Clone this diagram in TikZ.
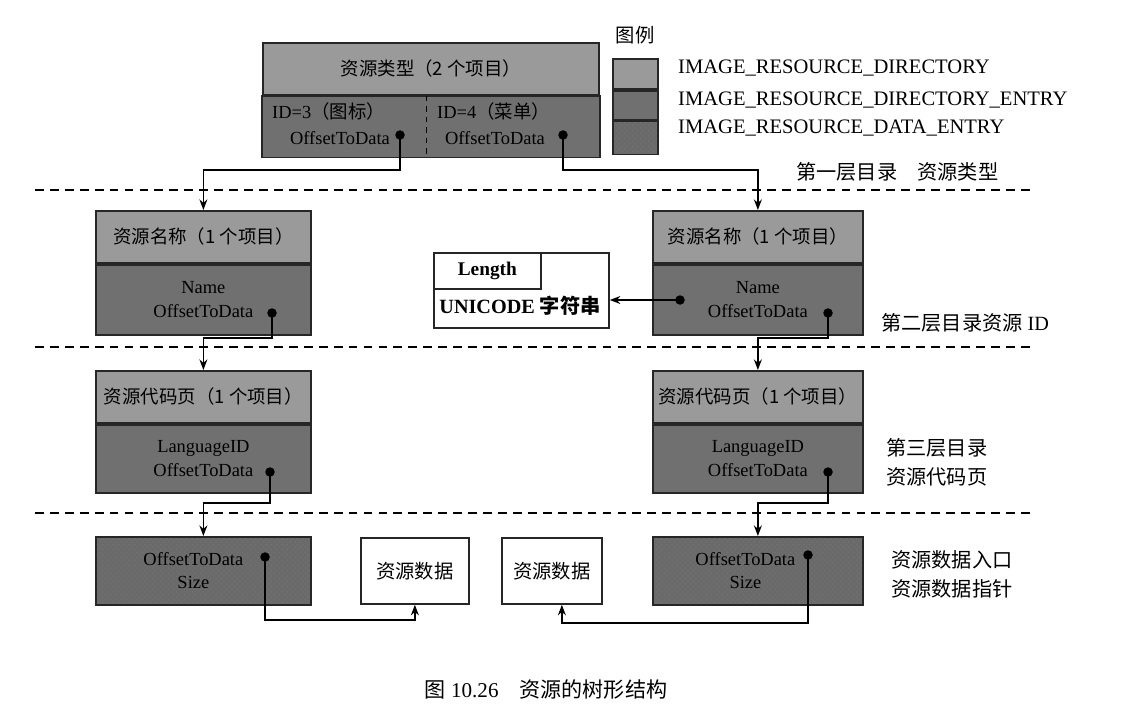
\documentclass[tikz,border=0pt]{standalone}
\usepackage{fontspec}
\setmainfont{Liberation Serif}
\newfontfamily\cjk{Noto Sans CJK SC}
\usepackage{tikz}
\usetikzlibrary{positioning,arrows.meta,calc,patterns}
\definecolor{dirgray}{HTML}{9A9A9A}
\definecolor{entgray}{HTML}{707070}
\definecolor{datgray}{HTML}{6A6A6A}
\newcommand{\zh}[1]{{\cjk #1}}

\begin{document}
\begin{tikzpicture}[
    box/.style={draw=black!85, line width=1pt, inner sep=0pt, anchor=north west},
    dirhdr/.style={box, fill=dirgray, minimum height=1.04cm, font=\fontsize{10.5}{12}\selectfont},
    entbody/.style={box, fill=entgray, align=center, font=\fontsize{10.5}{13.7}\selectfont},
    stipple/.style={preaction={fill=datgray}, pattern=crosshatch dots, pattern color=black!55},
    datentry/.style={box, stipple, minimum height=1.36cm},
    dattext/.style={align=center, text=black, font=\fontsize{10.5}{13}\selectfont},
    datbox/.style={box, fill=white, minimum height=1.32cm, font=\fontsize{11}{13}\selectfont},
    dot/.style={circle, fill=black, inner sep=0pt, minimum size=0.19cm},
    arr/.style={line width=1pt, -{Stealth[length=6pt,width=4.5pt]}},
    level/.style={line width=1.2pt, dash pattern=on 5pt off 3.5pt},
    side/.style={anchor=west, align=left, font=\fontsize{11.5}{16.5}\selectfont},
    lgtext/.style={anchor=west, font=\fontsize{11.7}{14}\selectfont},
    txt/.style={font=\fontsize{10.5}{12}\selectfont}
  ]
    \useasboundingbox (0,0) rectangle (22.92,14.42);

    \node[dirhdr, minimum width=6.72cm] (typ) at (5.24,13.58) {\zh{资源类型（2 个项目）}};
    \node[box, draw=none, fill=entgray, minimum width=3.26cm, minimum height=1.2cm] (typL) at (typ.south west) {};
    \node[box, draw=none, fill=entgray, minimum width=3.46cm, minimum height=1.2cm, anchor=north east] (typR) at (typ.south east) {};
    \draw[line width=1pt, black!85] (typL.north west) rectangle (typR.south east);
    \draw[line width=0.8pt, dashed] (typL.north east) -- (typL.south east);
    \node[txt, anchor=west] (id3) at (5.32,12.2) {ID=3\zh{（图标）}};
    \node[txt] (off3) at (6.8,11.66) {OffsetToData};
    \node[dot] (d3) at (8.0,11.72) {};
    \node[txt, anchor=west] (id4) at (8.62,12.2) {ID=4\zh{（菜单）}};
    \node[txt] (off4) at (9.9,11.66) {OffsetToData};
    \node[dot] (d4) at (11.26,11.72) {};

    \node[font=\fontsize{11}{13}\selectfont] (lgd) at (12.7,13.72) {\zh{图例}};
    \node[box, fill=dirgray, minimum width=0.9cm, minimum height=0.6cm] (lg1) at (12.24,13.26) {};
    \node[box, fill=entgray, minimum width=0.9cm, minimum height=0.58cm] (lg2) at (lg1.south west) {};
    \node[box, stipple, minimum width=0.9cm, minimum height=0.66cm] (lg3) at (lg2.south west) {};
    \node[lgtext] (lgt1) at (13.44,13.06) {IMAGE\_RESOURCE\_DIRECTORY};
    \node[lgtext] (lgt2) at (13.44,12.42) {IMAGE\_RESOURCE\_DIRECTORY\_ENTRY};
    \node[lgtext] (lgt3) at (13.44,11.86) {IMAGE\_RESOURCE\_DATA\_ENTRY};

    \node[side] (lv1) at (15.8,10.98) {\zh{第一层目录　资源类型}};
    \draw[level] (0.7,10.62) -- (20.6,10.62);

    \node[dirhdr, minimum width=4.3cm] (nmL) at (1.9,10.22) {\zh{资源名称（1 个项目）}};
    \node[entbody, minimum width=4.3cm, minimum height=1.4cm] (nmLb) at (nmL.south west) {Name\\OffsetToData};
    \node[dot] (nmLd) at (5.44,8.16) {};
    \node[dirhdr, minimum width=4.2cm] (nmR) at (13.04,10.22) {\zh{资源名称（1 个项目）}};
    \node[entbody, minimum width=4.2cm, minimum height=1.4cm] (nmRb) at (nmR.south west) {Name\\OffsetToData};
    \node[dot] (nmRd) at (16.56,8.16) {};
    \node[dot] (nmRn) at (13.6,8.42) {};

    \node[box, fill=white, minimum width=3.5cm, minimum height=1.5cm] (str) at (8.66,9.38) {};
    \node[box, fill=white, minimum width=2.14cm, minimum height=0.72cm, font=\bfseries\fontsize{11}{13}\selectfont] (len) at (str.north west) {Length};
    \node[font=\bfseries\fontsize{11.5}{13}\selectfont] (uni) at (10.4,8.3) {UNICODE \zh{字符串}};

    \draw[arr] (d3.center) -- ++(0,-0.7) -| (nmL.north);
    \draw[arr] (d4.center) -- ++(0,-0.7) -| (nmR.north);
    \draw[arr] (nmRn.center) -- (nmRn.center -| str.east);

    \node[side] (lv2) at (17.5,7.96) {\zh{第二层目录资源} ID};
    \draw[level] (0.7,7.48) -- (20.6,7.48);

    \node[dirhdr, minimum width=4.3cm] (cpL) at (1.9,7.02) {\zh{资源代码页（1 个项目）}};
    \node[entbody, minimum width=4.3cm, minimum height=1.36cm] (cpLb) at (cpL.south west) {LanguageID\\OffsetToData};
    \node[dot] (cpLd) at (5.4,4.98) {};
    \node[dirhdr, minimum width=4.2cm] (cpR) at (13.04,7.02) {\zh{资源代码页（1 个项目）}};
    \node[entbody, minimum width=4.2cm, minimum height=1.36cm] (cpRb) at (cpR.south west) {LanguageID\\OffsetToData};
    \node[dot] (cpRd) at (16.56,4.98) {};

    \draw[arr] (nmLd.center) -- ++(0,-0.5) -| (cpL.north);
    \draw[arr] (nmRd.center) -- ++(0,-0.5) -| (cpR.north);

    \node[side] (lv3) at (17.6,5.17) {\zh{第三层目录}\\\zh{资源代码页}};
    \draw[level] (0.7,4.16) -- (20.6,4.16);

    \node[datentry, minimum width=4.3cm] (deL) at (1.9,3.7) {};
    \node[dattext, xshift=-0.2cm] (deLt) at (deL.center) {OffsetToData\\Size};
    \node[dot] (deLd) at (5.3,3.28) {};
    \node[datbox, minimum width=2.16cm] (datL) at (7.2,3.68) {\zh{资源数据}};
    \node[datbox, minimum width=2.0cm] (datR) at (10.02,3.68) {\zh{资源数据}};
    \node[datentry, minimum width=4.2cm] (deR) at (13.04,3.7) {};
    \node[dattext, xshift=-0.25cm] (deRt) at (deR.center) {OffsetToData\\Size};
    \node[dot] (deRd) at (16.16,3.32) {};

    \draw[arr] (cpLd.center) -- ++(0,-0.62) -| (deL.north);
    \draw[arr] (cpRd.center) -- ++(0,-0.62) -| (deR.north);
    \draw[arr] (deLd.center) -- ++(0,-1.26) -| (datL.south);
    \draw[arr] (deRd.center) -- ++(0,-1.36) -| ($(datR.south)+(0.2,0)$);

    \node[side] (lv4) at (17.7,2.94) {\zh{资源数据入口}\\\zh{资源数据指针}};

    \node[font=\fontsize{12}{14}\selectfont] (cap) at (10.92,0.62) {\zh{图} 10.26\quad\zh{资源的树形结构}};
  \end{tikzpicture}
\end{document}
